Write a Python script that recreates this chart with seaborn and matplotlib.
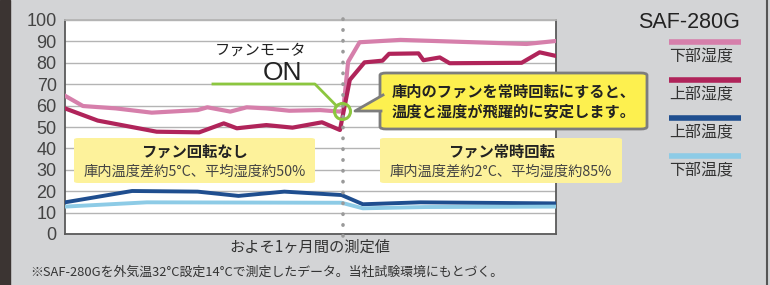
import matplotlib
matplotlib.use("Agg")
import matplotlib.pyplot as plt
import seaborn as sns
import pandas as pd
from matplotlib.patches import FancyBboxPatch, Polygon, Rectangle
from matplotlib.lines import Line2D

# ---------------- data (days over ~1 month, values %/°C) ----------------
low_hum_x = [0, 1.1, 3.1, 5.3, 8.1, 8.7, 10.1, 11.1, 12.3, 13.7, 15.6, 16.8, 17.0, 17.3, 18.0, 20.5, 28.2, 30]
low_hum_y = [64.6, 59.8, 58.7, 56.7, 57.9, 59.2, 57.2, 59.2, 58.7, 57.6, 57.9, 57.2, 58.0, 80.5, 89.6, 90.7, 88.8, 90.2]

up_hum_x = [0, 2.0, 5.6, 8.2, 9.7, 10.5, 12.3, 13.9, 15.7, 16.8, 17.4, 18.3, 19.4, 19.8, 21.6, 21.9, 22.9, 23.5, 27.9, 29.0, 30]
up_hum_y = [58.7, 53.0, 47.8, 47.5, 51.7, 49.4, 50.9, 49.7, 52.2, 48.6, 72.0, 80.2, 81.0, 84.2, 84.4, 81.2, 82.5, 79.8, 80.0, 84.9, 83.2]

up_temp_x = [0, 4.1, 8.1, 10.6, 13.4, 16.9, 18.2, 21.7, 30]
up_temp_y = [14.8, 20.1, 19.8, 17.8, 19.8, 18.2, 13.9, 14.8, 14.3]

low_temp_x = [0, 5.0, 16.9, 18.2, 22.0, 30]
low_temp_y = [12.8, 14.8, 14.6, 12.0, 12.6, 12.8]

series_names = ["下部湿度", "上部湿度", "上部温度", "下部温度"]
series_colors = ["#d67fab", "#b0245a", "#1f4e8f", "#8dcbe6"]
fan_on_day = 17.0
y_ticks = [0, 10, 20, 30, 40, 50, 60, 70, 80, 90, 100]

rows = []
for name, xs, ys in [("下部湿度", low_hum_x, low_hum_y), ("上部湿度", up_hum_x, up_hum_y),
                     ("上部温度", up_temp_x, up_temp_y), ("下部温度", low_temp_x, low_temp_y)]:
    for x, y in zip(xs, ys):
        rows.append({"series": name, "day": x, "value": y})
df = pd.DataFrame(rows)

# ---------------- figure ----------------
W, H = 770, 285
fig = plt.figure(figsize=(W / 100, H / 100), dpi=100)
plt.rcParams['font.family'] = ['Noto Sans CJK JP', 'DejaVu Sans']
fig.patch.set_facecolor("#d3d4d6")
LATIN = ["Liberation Sans", "DejaVu Sans"]

def fpx(x, y):
    return (x / W, 1 - y / H)

# left dark strip and right edge line
fig.add_artist(Rectangle((0, 0), 10 / W, 1, transform=fig.transFigure, color="#3b3432", zorder=0))
fig.add_artist(Line2D([767 / W, 767 / W], [0, 1], transform=fig.transFigure, color="#555555", lw=1.5))

ax = fig.add_axes([65 / W, (H - 234) / H, 491 / W, 214 / H])
ax.set_facecolor("white")

for name, color in zip(series_names, series_colors):
    sub = df[df["series"] == name]
    lw = 3.0 if "湿度" in name else 2.8
    sns.lineplot(data=sub, x="day", y="value", ax=ax, color=color, lw=lw,
                 sort=False, estimator=None, legend=False, zorder=3)

ax.set_xlim(0, 30)
ax.set_ylim(0, 100)
ax.set_yticks(y_ticks)
ax.set_xticks([])
ax.set_xlabel("")
ax.set_ylabel("")
ax.grid(axis="y", color="#b4b4b4", lw=1.0, zorder=0)
ax.set_axisbelow(True)
ax.tick_params(axis="y", length=0, pad=6, labelsize=13, labelcolor="#444444")
for lab in ax.get_yticklabels():
    lab.set_family(LATIN)
for s in ["left", "bottom", "right", "top"]:
    ax.spines[s].set_color("#5a5a5a")
    ax.spines[s].set_linewidth(1.3)
ax.spines["top"].set_color("#b4b4b4")

# dotted line at fan-on
ax.plot([fan_on_day, fan_on_day], [-1, 101], color="#9a9a9a", lw=2.6,
        linestyle=(0, (0.1, 2.9)), dash_capstyle="round", zorder=4, clip_on=False)

# green pointer line + circle
ax.plot([9.04, 15.27, 16.6], [70.1, 70.1, 59.8], color="#8cc63f", lw=2.0, zorder=5)
ax.plot([16.92], [57.5], marker="o", markersize=11.5, markerfacecolor="none",
        markeredgecolor="#8cc63f", markeredgewidth=2.2, zorder=6)

# "ファンモータ ON"
fig.text(*fpx(261, 50), "ファンモータ", ha="center", va="center", fontsize=11, color="#222222")
fig.text(*fpx(283, 73), "ON", ha="center", va="center", fontsize=19, color="#222222", family=LATIN)

# pale yellow info boxes
for (x0, x1, title, sub) in [(74, 315, "ファン回転なし", "庫内温度差約5°C、平均湿度約50%"),
                              (380, 622, "ファン常時回転", "庫内温度差約2°C、平均湿度約85%")]:
    bx, by = fpx(x0, 183)
    bw, bh = (x1 - x0) / W, 45 / H
    fig.add_artist(FancyBboxPatch((bx, by), bw, bh, boxstyle="round,pad=0,rounding_size=0.006",
                                  transform=fig.transFigure, facecolor="#fdf29b", edgecolor="none", zorder=5))
    cx = (x0 + x1) / 2
    fig.text(*fpx(cx, 152), title, ha="center", va="center", fontsize=11, fontweight="bold",
             color="#222222", zorder=6)
    fig.text(*fpx(cx, 172), sub, ha="center", va="center", fontsize=10.3, color="#444444", zorder=6)

# callout box
cbx, cby = fpx(380, 129)
fig.add_artist(FancyBboxPatch((cbx, cby), 267 / W, 56 / H, boxstyle="round,pad=0,rounding_size=0.008",
                              transform=fig.transFigure, facecolor="#fdf04f", edgecolor="#7d7d7d",
                              lw=2.0, zorder=7))
tri = Polygon([fpx(383, 95), fpx(355, 111), fpx(383, 111)], closed=True, transform=fig.transFigure,
              facecolor="#fdf04f", edgecolor="none", zorder=8)
fig.add_artist(tri)
fig.add_artist(Line2D([383 / W, 355 / W, 381 / W], [1 - 95 / H, 1 - 111 / H, 1 - 111 / H],
                      transform=fig.transFigure, color="#7d7d7d", lw=2.0, zorder=8))
fig.text(*fpx(392, 92), "庫内のファンを常時回転にすると、", ha="left", va="center", fontsize=11,
         fontweight="bold", color="#222222", zorder=9)
fig.text(*fpx(392, 111), "温度と湿度が飛躍的に安定します。", ha="left", va="center", fontsize=11,
         fontweight="bold", color="#222222", zorder=9)

# x label and footnote
fig.text(*fpx(310, 247), "およそ1ヶ月間の測定値", ha="center", va="center", fontsize=11, color="#333333")
fig.text(*fpx(30, 272), "※SAF-280Gを外気温32°C設定14°Cで測定したデータ。当社試験環境にもとづく。",
         ha="left", va="center", fontsize=9.3, color="#333333")

# legend
fig.text(*fpx(740, 22), "SAF-280G", ha="right", va="center", fontsize=15.5, color="#222222", family=LATIN)
for i, (name, color) in enumerate(zip(series_names, series_colors)):
    ly = 42 + i * 38
    fig.add_artist(Line2D([669 / W, 741 / W], [1 - ly / H, 1 - ly / H], transform=fig.transFigure,
                          color=color, lw=4.0, solid_capstyle="butt"))
    fig.text(*fpx(669, ly + 15), name, ha="left", va="center", fontsize=11.5, color="#333333")

fig.savefig("out.png", dpi=100, facecolor=fig.get_facecolor())
